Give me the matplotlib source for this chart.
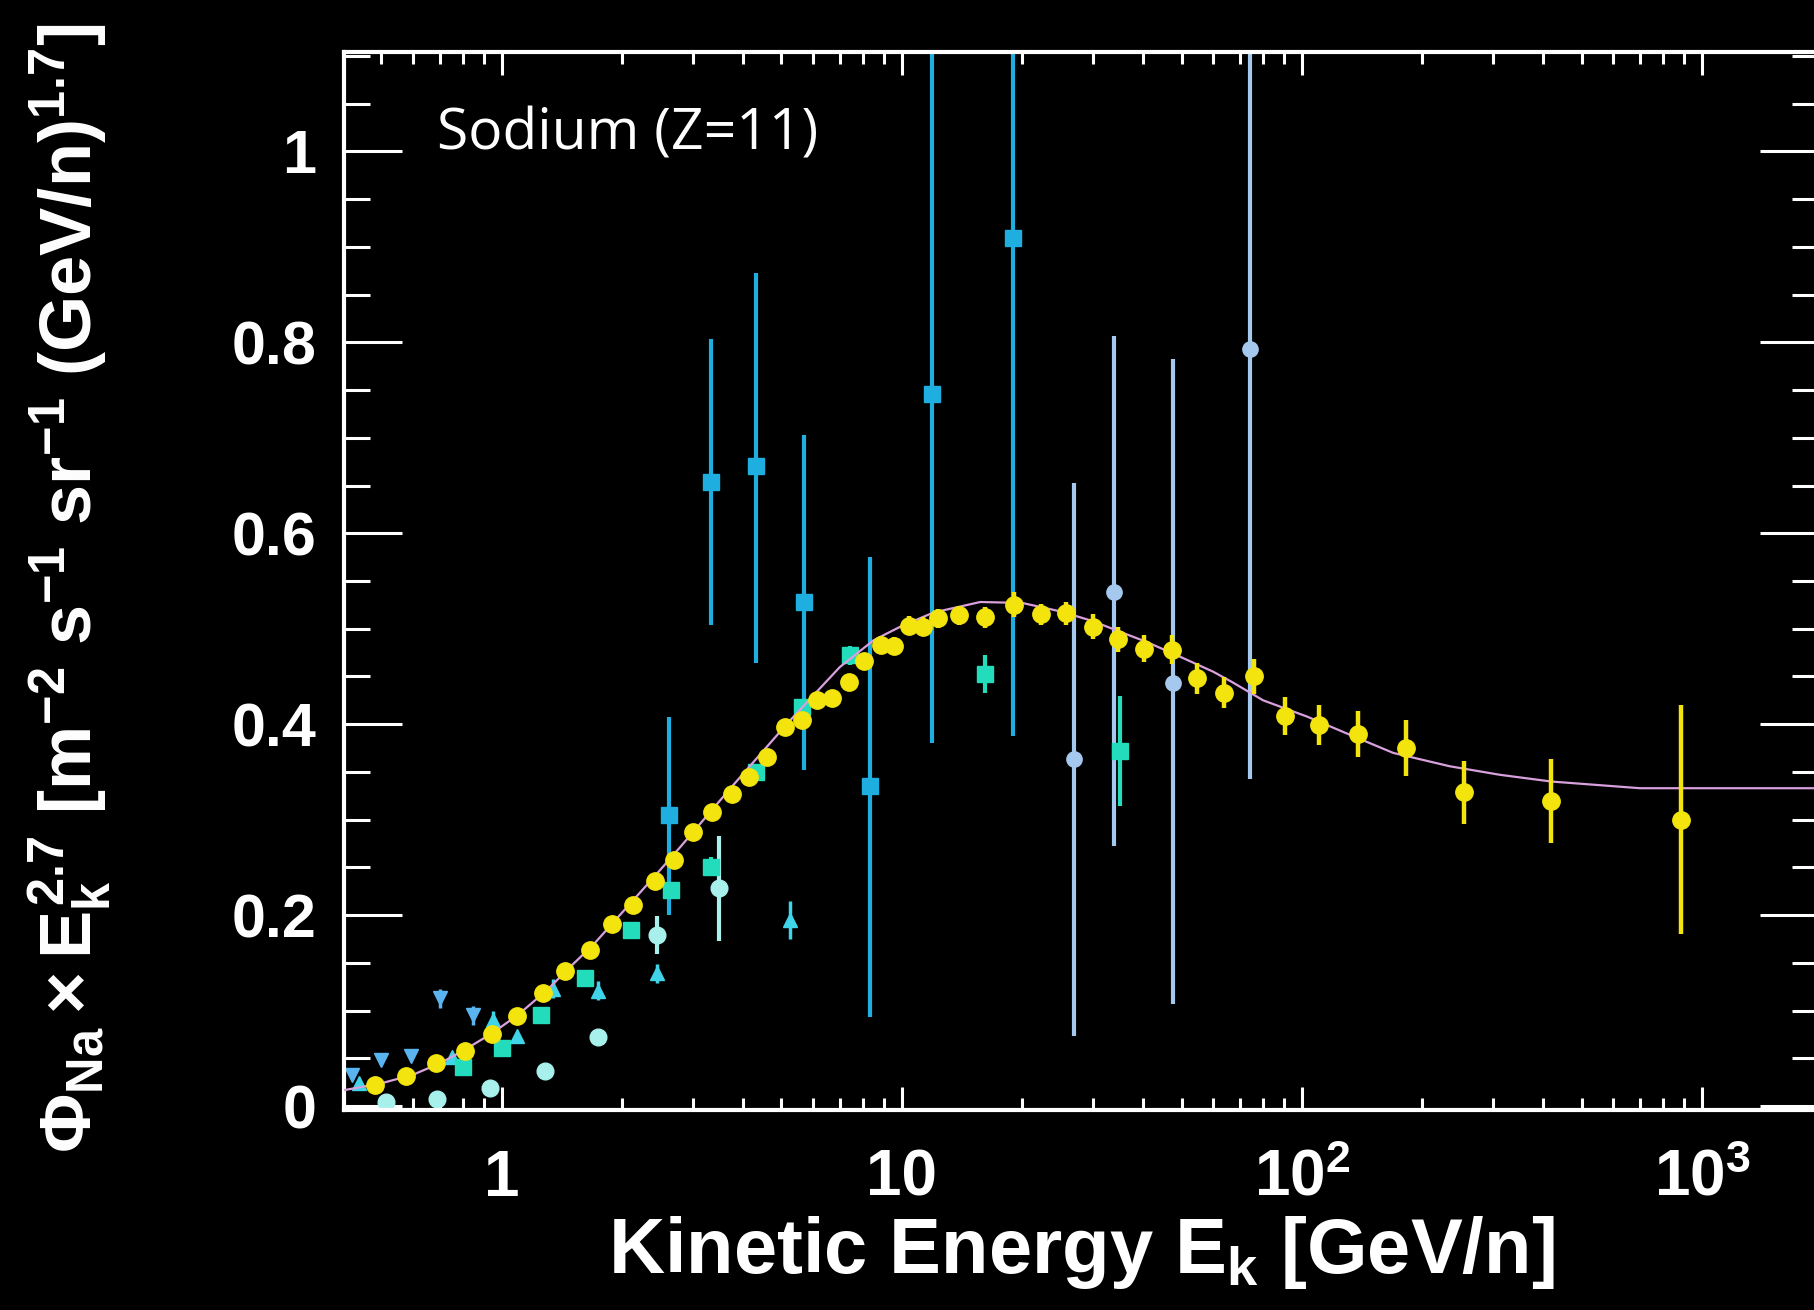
import numpy as np
import matplotlib
matplotlib.use("Agg")
import matplotlib.pyplot as plt
from matplotlib.ticker import FixedLocator, FixedFormatter, MultipleLocator, NullFormatter

# ---- data ----
# yellow points (main data set)
yel_e = [0.483, 0.575, 0.683, 0.808, 0.943, 1.089, 1.265, 1.442, 1.66, 1.88, 2.13, 2.41,
         2.70, 3.01, 3.36, 3.75, 4.14, 4.59, 5.11, 5.64, 6.12, 6.68, 7.37, 8.05, 8.86,
         9.55, 10.43, 11.26, 12.3, 13.89, 16.1, 19.03, 22.3, 25.7, 30.0, 34.7, 40.3,
         47.2, 54.8, 64.0, 75.7, 90.7, 110.2, 138, 181.6, 254, 419, 888]
yel_v = [0.022, 0.032, 0.045, 0.058, 0.076, 0.094, 0.119, 0.142, 0.164, 0.191, 0.211, 0.236,
         0.258, 0.287, 0.308, 0.327, 0.345, 0.366, 0.397, 0.404, 0.425, 0.427, 0.444, 0.466,
         0.483, 0.482, 0.503, 0.502, 0.511, 0.514, 0.512, 0.525, 0.515, 0.516, 0.502, 0.489,
         0.479, 0.478, 0.448, 0.433, 0.450, 0.409, 0.399, 0.390, 0.375, 0.329, 0.320, 0.300]
yel_err = [0.003, 0.003, 0.003, 0.003, 0.004, 0.004, 0.004, 0.005, 0.005, 0.005, 0.005, 0.006,
           0.006, 0.006, 0.006, 0.006, 0.007, 0.007, 0.007, 0.007, 0.008, 0.008, 0.008, 0.008,
           0.009, 0.009, 0.010, 0.010, 0.010, 0.010, 0.011, 0.013, 0.011, 0.012, 0.013, 0.013,
           0.014, 0.015, 0.016, 0.016, 0.018, 0.020, 0.021, 0.024, 0.029, 0.033, 0.044, 0.120]

# model curve
curve_e = [0.394, 0.5, 0.6, 0.7, 0.8, 0.95, 1.1, 1.3, 1.5, 1.7, 2.0, 2.4, 2.8, 3.3, 3.8,
           4.5, 5.2, 6.0, 7.0, 8.5, 10, 12, 15.7, 20, 25, 30, 35, 41, 50, 60, 67, 80, 103,
           130, 169, 234, 313, 420, 700, 2000]
curve_v = [0.016, 0.024, 0.033, 0.045, 0.058, 0.077, 0.096, 0.122, 0.148, 0.170, 0.203,
           0.240, 0.272, 0.307, 0.337, 0.372, 0.402, 0.430, 0.460, 0.488, 0.503, 0.517,
           0.528, 0.527, 0.518, 0.508, 0.497, 0.486, 0.470, 0.455, 0.444, 0.425, 0.408,
           0.390, 0.370, 0.356, 0.347, 0.340, 0.333, 0.333]

# blue squares
bsq_e = [2.61, 3.34, 4.31, 5.70, 8.30, 11.9, 18.9]
bsq_v = [0.305, 0.654, 0.670, 0.528, 0.335, 0.746, 0.909]
bsq_lo = [0.200, 0.504, 0.464, 0.352, 0.093, 0.380, 0.388]
bsq_hi = [0.408, 0.803, 0.873, 0.703, 0.575, 1.300, 1.300]

# light blue circles
lbc_e = [27.0, 33.9, 47.5, 74.0]
lbc_v = [0.364, 0.539, 0.443, 0.793]
lbc_lo = [0.074, 0.272, 0.107, 0.343]
lbc_hi = [0.653, 0.807, 0.782, 1.300]

# turquoise squares
tsq_e = [0.80, 1.00, 1.25, 1.61, 2.10, 2.65, 3.34, 4.32, 5.64, 7.40, 16.1, 35.0]
tsq_v = [0.041, 0.061, 0.096, 0.134, 0.185, 0.226, 0.251, 0.350, 0.418, 0.472, 0.453, 0.372]
tsq_err = [0, 0, 0, 0, 0, 0, 0.01, 0, 0, 0.01, 0.02, 0.058]

# pale cyan circles
pcc_e = [0.514, 0.69, 0.933, 1.28, 1.74, 2.44, 3.48]
pcc_v = [0.004, 0.008, 0.019, 0.037, 0.072, 0.179, 0.228]
pcc_err = [0, 0, 0, 0, 0, 0.02, 0.055]

# triangles up
tup_e = [0.44, 0.75, 0.95, 1.09, 1.34, 1.74, 2.44, 5.25]
tup_v = [0.024, 0.052, 0.090, 0.073, 0.123, 0.121, 0.139, 0.195]
tup_err = [0, 0, 0.01, 0, 0.01, 0.01, 0.01, 0.02]

# triangles down
tdn_e = [0.421, 0.50, 0.594, 0.70, 0.845]
tdn_v = [0.0325, 0.048, 0.053, 0.113, 0.095]
tdn_err = [0, 0, 0, 0.01, 0.01]

x_ticks = [1, 10, 100, 1000]
x_labels = ["1", "10", r"$10^{2}$", r"$10^{3}$"]
y_ticks = [0, 0.2, 0.4, 0.6, 0.8, 1.0]
y_labels = ["0", "0.2", "0.4", "0.6", "0.8", "1"]

plt.rcParams["mathtext.fontset"] = "custom"
plt.rcParams["mathtext.rm"] = "Liberation Sans:bold"
plt.rcParams["mathtext.bf"] = "Liberation Sans:bold"
plt.rcParams["mathtext.it"] = "Liberation Sans:bold"
plt.rcParams["font.family"] = "Liberation Sans"

W, H = 1815, 1310
fig = plt.figure(figsize=(W / 100, H / 100), dpi=100, facecolor="black")
ax = fig.add_axes([344 / W, 1 - 1110 / H, (1818 - 344) / W, (1110 - 52) / H])
ax.set_facecolor("black")

ax.errorbar(tdn_e, tdn_v, yerr=tdn_err, fmt="v", color="#5ab4f0", ms=10, elinewidth=2.5, capsize=0)
ax.errorbar(tup_e, tup_v, yerr=tup_err, fmt="^", color="#40d4e8", ms=10, elinewidth=2.5, capsize=0)
ax.errorbar(pcc_e, pcc_v, yerr=pcc_err, fmt="o", color="#a8f0ec", ms=12, elinewidth=3, capsize=0)
ax.errorbar(tsq_e, tsq_v, yerr=tsq_err, fmt="s", color="#22dcbc", ms=11, elinewidth=3, capsize=0)
ax.errorbar(bsq_e, bsq_v,
            yerr=[np.subtract(bsq_v, bsq_lo), np.subtract(bsq_hi, bsq_v)],
            fmt="s", color="#1eaee0", ms=11, elinewidth=3, capsize=0)
ax.errorbar(lbc_e, lbc_v,
            yerr=[np.subtract(lbc_v, lbc_lo), np.subtract(lbc_hi, lbc_v)],
            fmt="o", color="#a5c8ee", ms=11, elinewidth=3, capsize=0)
ax.plot(curve_e, curve_v, color="#d8a0dc", lw=1.6, zorder=3)
ax.errorbar(yel_e, yel_v, yerr=yel_err, fmt="o", color="#f2e40c", ms=12.5, elinewidth=3.2,
            capsize=0, zorder=4)

ax.set_xscale("log")
ax.set_xlim(0.403, 1950)
ax.set_ylim(-0.004, 1.104)

ax.xaxis.set_major_locator(FixedLocator(x_ticks))
ax.xaxis.set_major_formatter(FixedFormatter(x_labels))
ax.xaxis.set_minor_locator(matplotlib.ticker.LogLocator(base=10, subs=np.arange(2, 10)))
ax.xaxis.set_minor_formatter(NullFormatter())
ax.yaxis.set_major_locator(FixedLocator(y_ticks))
ax.yaxis.set_major_formatter(FixedFormatter(y_labels))
ax.yaxis.set_minor_locator(MultipleLocator(0.05))

for s in ax.spines.values():
    s.set_color("white")
    s.set_linewidth(3)

ax.tick_params(axis="both", which="both", direction="in", colors="white",
               top=True, right=True, width=2.2)
ax.tick_params(axis="y", which="major", length=42, labelsize=44, pad=20)
ax.tick_params(axis="y", which="minor", length=19)
ax.tick_params(axis="x", which="major", length=16.5, labelsize=46, pad=28)
ax.tick_params(axis="x", which="minor", length=8.5)
for lab in ax.get_xticklabels() + ax.get_yticklabels():
    lab.set_fontweight("bold")

ax.set_xlabel(r"Kinetic Energy E$_{\mathbf{k}}$ [GeV/n]", color="white", fontsize=56,
              fontweight="bold", labelpad=4)

fig.text(70 / W, 1 - 588 / H,
         r"$\Phi_{Na} \times E_{k}^{2.7}$ [m$^{-2}$ s$^{-1}$ sr$^{-1}$ (GeV/n)$^{1.7}$]",
         rotation=90, color="white", fontsize=52, fontweight="bold", ha="center", va="center")

fig.text(437 / W, 1 - 135 / H, "Sodium (Z=11)", color="white", fontsize=41,
         family="Open Sans", ha="left", va="center")

fig.savefig("out.png", dpi=100, facecolor="black")
